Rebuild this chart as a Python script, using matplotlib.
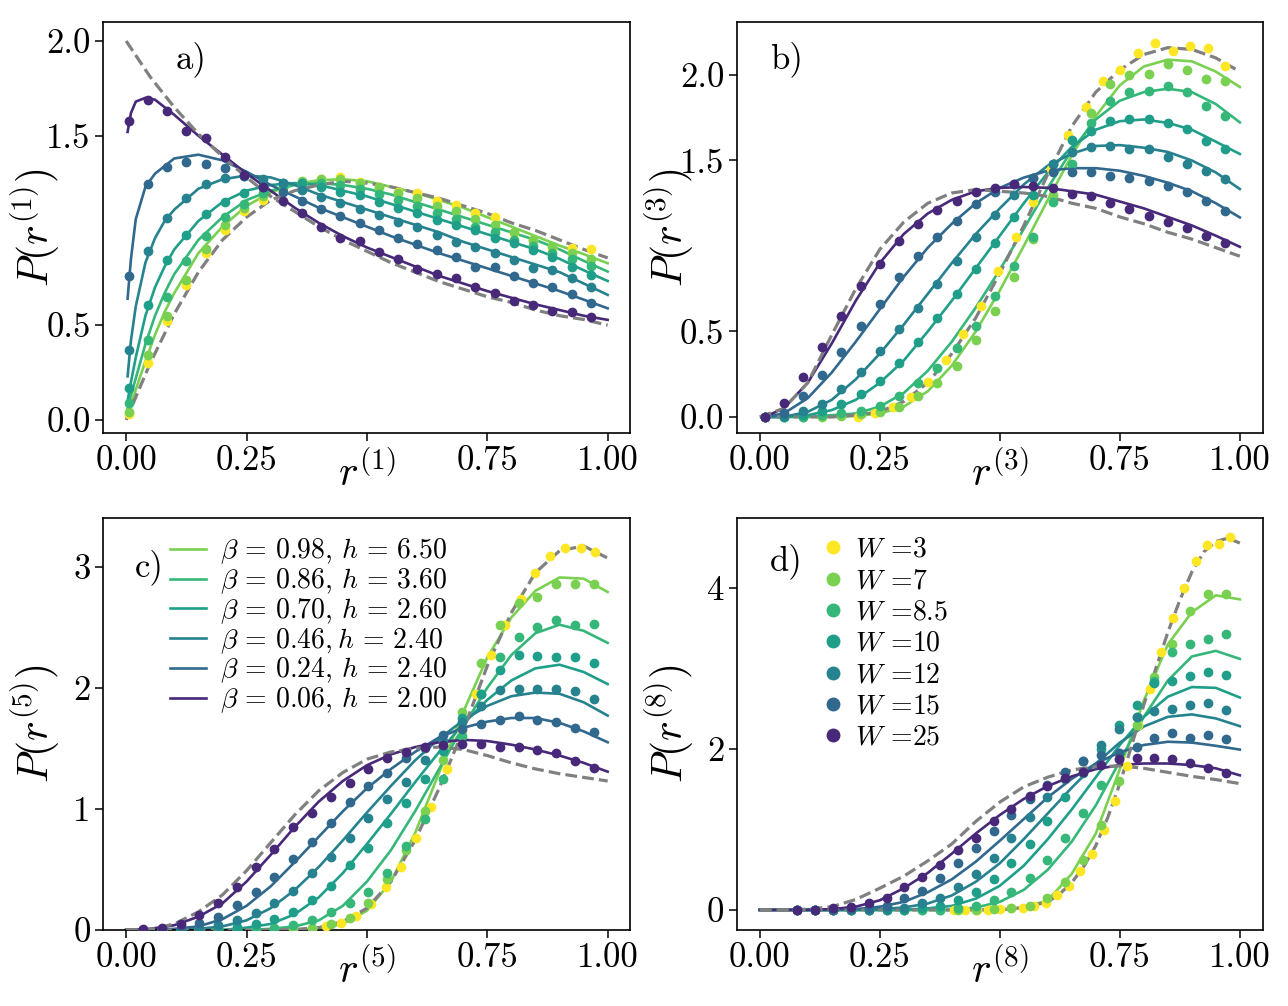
import numpy as np
import matplotlib
matplotlib.use("Agg")
import matplotlib.pyplot as plt

plt.rcParams["font.family"] = "serif"
plt.rcParams["font.serif"] = ["cmr10"]
plt.rcParams["mathtext.fontset"] = "cm"
plt.rcParams["axes.formatter.use_mathtext"] = True

# ---------------------------------------------------------------- legend / colours
W_labels = ["3", "7", "8.5", "10", "12", "15", "25"]
colors = ["#fde725", "#7ad151", "#35b779", "#1f9e89", "#26828e", "#31688e", "#482878"]
fit_labels = [r"$\beta\,=\,0.98$, $h\,=\,6.50$", r"$\beta\,=\,0.86$, $h\,=\,3.60$",
              r"$\beta\,=\,0.70$, $h\,=\,2.60$", r"$\beta\,=\,0.46,h\,=\,2.40$",
              r"$\beta\,=\,0.24$, $h\,=\,2.40$", r"$\beta\,=\,0.06$, $h\,=\,2.00$"]

r_ref = [0.0, 0.05, 0.1, 0.15, 0.2, 0.25, 0.3, 0.35, 0.4, 0.45, 0.5,
         0.55, 0.6, 0.65, 0.7, 0.75, 0.8, 0.85, 0.9, 0.95, 1.0]

# ---------------------------------------------------------------- panel a), k=1
a_r_dots = [0.005, 0.045, 0.085, 0.125, 0.165, 0.205, 0.245, 0.285, 0.325, 0.365, 0.405, 0.445, 0.485,
            0.525, 0.565, 0.605, 0.645, 0.685, 0.725, 0.765, 0.805, 0.845, 0.885, 0.925, 0.965]
a_dots = [  # W = 3, 7, 8.5, 10, 12, 15, 25
    [0.03, 0.30, 0.52, 0.71, 0.88, 1.00, 1.10, 1.16, 1.21, 1.25, 1.27, 1.284, 1.258, 1.231, 1.205, 1.196,
     1.156, 1.135, 1.09, 1.07, 0.985, 0.95, 0.906, 0.909, 0.902],
    [0.04, 0.34, 0.55, 0.74, 0.90, 1.03, 1.12, 1.18, 1.23, 1.26, 1.27, 1.27, 1.25, 1.23, 1.20, 1.17,
     1.13, 1.10, 1.06, 1.03, 0.99, 0.95, 0.92, 0.88, 0.85],
    [0.09, 0.42, 0.65, 0.84, 0.97, 1.07, 1.14, 1.20, 1.23, 1.25, 1.25, 1.24, 1.22, 1.19, 1.16, 1.13,
     1.09, 1.06, 1.02, 0.99, 0.95, 0.92, 0.88, 0.85, 0.81],
    [0.167, 0.607, 0.844, 0.976, 1.085, 1.152, 1.20, 1.231, 1.249, 1.249, 1.231, 1.205, 1.187, 1.149,
     1.117, 1.09, 1.055, 1.029, 1.003, 0.959, 0.932, 0.897, 0.862, 0.809, 0.765],
    [0.37, 0.892, 1.064, 1.173, 1.244, 1.275, 1.288, 1.27, 1.249, 1.214, 1.179, 1.143, 1.112, 1.082,
     1.047, 1.02, 0.976, 0.941, 0.915, 0.88, 0.844, 0.80, 0.79, 0.748, 0.704],
    [0.76, 1.245, 1.337, 1.363, 1.351, 1.328, 1.288, 1.231, 1.205, 1.156, 1.112, 1.077, 1.038, 1.003,
     0.959, 0.929, 0.897, 0.858, 0.809, 0.806, 0.76, 0.721, 0.704, 0.665, 0.616],
    [1.58, 1.69, 1.63, 1.525, 1.486, 1.386, 1.293, 1.231, 1.156, 1.094, 1.017, 0.959, 0.945, 0.885,
     0.848, 0.799, 0.770, 0.748, 0.704, 0.672, 0.628, 0.607, 0.575, 0.568, 0.545],
]
a_r_fit = [0.003, 0.01, 0.02, 0.04, 0.06, 0.08, 0.1, 0.15, 0.2, 0.25, 0.3, 0.35, 0.4,
           0.45, 0.5, 0.55, 0.6, 0.65, 0.7, 0.75, 0.8, 0.85, 0.9, 0.95, 1.0]
a_fits = [  # beta = 0.98, 0.86, 0.70, 0.46, 0.24, 0.06
    [0.03, 0.08, 0.16, 0.31, 0.45, 0.57, 0.67, 0.88, 1.02, 1.13, 1.20, 1.245, 1.265, 1.27, 1.26, 1.23,
     1.20, 1.16, 1.12, 1.07, 1.02, 0.97, 0.92, 0.875, 0.827],
    [0.06, 0.13, 0.22, 0.40, 0.55, 0.67, 0.77, 0.95, 1.07, 1.16, 1.21, 1.24, 1.25, 1.24, 1.22, 1.19,
     1.15, 1.11, 1.07, 1.03, 0.99, 0.95, 0.90, 0.84, 0.783],
    [0.10, 0.20, 0.33, 0.55, 0.70, 0.81, 0.90, 1.05, 1.15, 1.21, 1.24, 1.25, 1.24, 1.21, 1.18, 1.14,
     1.10, 1.06, 1.02, 0.98, 0.94, 0.90, 0.85, 0.79, 0.733],
    [0.23, 0.42, 0.60, 0.83, 0.96, 1.05, 1.11, 1.22, 1.27, 1.29, 1.28, 1.24, 1.19, 1.15, 1.11, 1.07,
     1.03, 0.99, 0.94, 0.90, 0.86, 0.82, 0.78, 0.72, 0.66],
    [0.64, 0.85, 1.06, 1.23, 1.30, 1.34, 1.38, 1.40, 1.37, 1.31, 1.24, 1.18, 1.12, 1.07, 1.02, 0.97,
     0.925, 0.88, 0.84, 0.80, 0.76, 0.72, 0.68, 0.635, 0.589],
    [1.52, 1.62, 1.68, 1.70, 1.69, 1.65, 1.61, 1.50, 1.40, 1.30, 1.21, 1.12, 1.04, 0.97, 0.91, 0.86,
     0.81, 0.76, 0.72, 0.68, 0.645, 0.61, 0.58, 0.55, 0.528],
]
a_poisson = [2.0, 1.81, 1.65, 1.51, 1.39, 1.28, 1.18, 1.10, 1.02, 0.95, 0.89,
             0.83, 0.78, 0.73, 0.69, 0.65, 0.62, 0.58, 0.55, 0.53, 0.50]
a_goe = [0.0, 0.30, 0.56, 0.78, 0.95, 1.07, 1.16, 1.21, 1.24, 1.26, 1.25,
         1.23, 1.20, 1.17, 1.13, 1.09, 1.04, 1.00, 0.95, 0.90, 0.855]

# ---------------------------------------------------------------- panel b), k=3
b_r_dots = [0.01, 0.05, 0.09, 0.13, 0.17, 0.21, 0.25, 0.29, 0.33, 0.37, 0.41, 0.45, 0.49,
            0.53, 0.57, 0.61, 0.65, 0.69, 0.73, 0.77, 0.81, 0.85, 0.89, 0.93, 0.97]
b_r_W3 = [0.205, 0.241, 0.278, 0.314, 0.351, 0.387, 0.424, 0.46, 0.497, 0.533, 0.569,
          0.606, 0.642, 0.679, 0.715, 0.751, 0.788, 0.824, 0.861, 0.897, 0.934, 0.97]
b_dots = [
    [0.0, 0.02, 0.06, 0.117, 0.207, 0.332, 0.484, 0.65, 0.855, 1.054, 1.255, 1.45, 1.65, 1.815,
     1.967, 2.03, 2.13, 2.185, 2.14, 2.17, 2.16, 2.055],
    [0.0, 0.0, 0.0, 0.0, 0.005, 0.015, 0.03, 0.06, 0.12, 0.2, 0.3, 0.45, 0.62, 0.82, 1.04, 1.3,
     1.55, 1.78, 1.95, 2.0, 2.006, 2.064, 2.03, 1.977, 1.967],
    [0.0, 0.0, 0.0, 0.01, 0.02, 0.035, 0.064, 0.123, 0.2, 0.289, 0.406, 0.533, 0.708, 0.884, 1.05,
     1.255, 1.48, 1.72, 1.85, 1.899, 1.908, 1.938, 1.90, 1.82, 1.762],
    [0.0, 0.0, 0.01, 0.035, 0.074, 0.133, 0.21, 0.318, 0.441, 0.576, 0.718, 0.864, 1.02, 1.167,
     1.30, 1.479, 1.62, 1.67, 1.733, 1.742, 1.74, 1.72, 1.684, 1.615, 1.567],
    [0.0, 0.005, 0.035, 0.074, 0.162, 0.26, 0.386, 0.513, 0.64, 0.777, 0.913, 1.05, 1.18, 1.30,
     1.40, 1.48, 1.55, 1.58, 1.586, 1.567, 1.567, 1.518, 1.479, 1.436, 1.391],
    [0.0, 0.025, 0.123, 0.244, 0.38, 0.533, 0.66, 0.816, 0.942, 1.05, 1.147, 1.245, 1.313, 1.36,
     1.40, 1.43, 1.43, 1.43, 1.41, 1.40, 1.38, 1.352, 1.313, 1.264, 1.206],
    [0.0, 0.084, 0.234, 0.41, 0.59, 0.767, 0.894, 1.03, 1.128, 1.212, 1.264, 1.313, 1.342, 1.362,
     1.35, 1.342, 1.303, 1.294, 1.249, 1.216, 1.177, 1.138, 1.108, 1.06, 1.02],
]
b_r_fit = [0.01, 0.05, 0.1, 0.15, 0.2, 0.25, 0.3, 0.35, 0.4, 0.45, 0.5,
           0.55, 0.6, 0.65, 0.7, 0.75, 0.8, 0.85, 0.9, 0.95, 1.0]
b_fits = [
    [0.0, 0.0, 0.0, 0.0, 0.005, 0.02, 0.06, 0.15, 0.3, 0.5, 0.74, 1.0, 1.27, 1.53, 1.76, 1.94,
     2.05, 2.09, 2.08, 2.02, 1.93],
    [0.0, 0.0, 0.0, 0.01, 0.02, 0.06, 0.14, 0.27, 0.44, 0.64, 0.86, 1.1, 1.34, 1.56, 1.74, 1.85,
     1.9, 1.92, 1.9, 1.83, 1.723],
    [0.0, 0.0, 0.01, 0.04, 0.1, 0.2, 0.33, 0.5, 0.68, 0.87, 1.06, 1.25, 1.43, 1.58, 1.68, 1.73,
     1.74, 1.72, 1.68, 1.61, 1.538],
    [0.0, 0.0, 0.03, 0.1, 0.22, 0.37, 0.54, 0.72, 0.9, 1.07, 1.22, 1.36, 1.47, 1.54, 1.585, 1.59,
     1.575, 1.55, 1.5, 1.43, 1.333],
    [0.0, 0.02, 0.11, 0.26, 0.44, 0.63, 0.82, 0.99, 1.13, 1.25, 1.34, 1.40, 1.44, 1.455, 1.455,
     1.44, 1.41, 1.37, 1.32, 1.25, 1.167],
    [0.0, 0.05, 0.2, 0.43, 0.68, 0.90, 1.07, 1.19, 1.27, 1.32, 1.34, 1.345, 1.34, 1.32, 1.30,
     1.26, 1.22, 1.17, 1.12, 1.06, 0.995],
]
b_poisson = [0.0, 0.05, 0.2, 0.48, 0.75, 0.98, 1.14, 1.25, 1.31, 1.33, 1.32,
             1.31, 1.29, 1.25, 1.22, 1.17, 1.13, 1.08, 1.04, 0.99, 0.94]
b_goe = [0.0, 0.0, 0.0, 0.0, 0.01, 0.03, 0.09, 0.2, 0.37, 0.58, 0.84,
         1.12, 1.42, 1.70, 1.90, 2.03, 2.12, 2.16, 2.15, 2.10, 2.02]

# ---------------------------------------------------------------- panel c), k=5
c_r_dots = [0.035, 0.074, 0.113, 0.152, 0.191, 0.23, 0.269, 0.308, 0.347, 0.386, 0.425, 0.464, 0.503,
            0.542, 0.581, 0.62, 0.659, 0.698, 0.737, 0.776, 0.815, 0.854, 0.893, 0.932, 0.971]
c_r_W3 = [0.385, 0.416, 0.447, 0.478, 0.508, 0.54, 0.57, 0.602, 0.634, 0.666,
          0.697, 0.727, 0.757, 0.787, 0.819, 0.849, 0.881, 0.912, 0.944, 0.974]
c_dots = [
    [0.014, 0.033, 0.06, 0.118, 0.215, 0.352, 0.523, 0.757, 1.013, 1.33, 1.64, 1.946, 2.27, 2.519,
     2.733, 2.945, 3.088, 3.157, 3.152, 3.124],
    [0.0, 0.0, 0.0, 0.0, 0.0, 0.0, 0.0, 0.005, 0.01, 0.02, 0.05, 0.1, 0.22, 0.42, 0.66, 0.98,
     1.4, 1.8, 2.2, 2.52, 2.7, 2.75, 2.86, 2.86, 2.86],
    [0.0, 0.0, 0.0, 0.0, 0.0, 0.005, 0.01, 0.02, 0.04, 0.08, 0.15, 0.22, 0.31, 0.468, 0.69, 0.92,
     1.25, 1.6, 1.95, 2.25, 2.42, 2.505, 2.56, 2.52, 2.53],
    [0.0, 0.0, 0.0, 0.005, 0.01, 0.025, 0.05, 0.09, 0.15, 0.25, 0.36, 0.54, 0.68, 0.88, 1.046,
     1.25, 1.48, 1.75, 1.95, 2.15, 2.27, 2.265, 2.257, 2.257, 2.2],
    [0.0, 0.0, 0.005, 0.015, 0.04, 0.083, 0.138, 0.22, 0.325, 0.468, 0.605, 0.757, 0.922, 1.082,
     1.225, 1.40, 1.56, 1.72, 1.85, 1.98, 1.99, 1.99, 1.99, 1.97, 1.91],
    [0.0, 0.005, 0.02, 0.055, 0.11, 0.206, 0.317, 0.44, 0.586, 0.73, 0.88, 1.06, 1.19, 1.293,
     1.42, 1.50, 1.61, 1.66, 1.70, 1.734, 1.767, 1.734, 1.72, 1.67, 1.632],
    [0.008, 0.019, 0.05, 0.124, 0.22, 0.352, 0.523, 0.666, 0.853, 0.969, 1.10, 1.217, 1.33, 1.418,
     1.473, 1.508, 1.53, 1.536, 1.536, 1.514, 1.514, 1.486, 1.459, 1.395, 1.335],
]
c_fits = [
    [0.0, 0.0, 0.0, 0.0, 0.0, 0.0, 0.0, 0.0, 0.01, 0.05, 0.16, 0.4, 0.8, 1.3, 1.8, 2.25,
     2.58, 2.8, 2.91, 2.9, 2.79],
    [0.0, 0.0, 0.0, 0.0, 0.0, 0.0, 0.01, 0.03, 0.08, 0.2, 0.4, 0.66, 0.98, 1.33, 1.68, 2.0,
     2.27, 2.45, 2.52, 2.47, 2.37],
    [0.0, 0.0, 0.0, 0.0, 0.0, 0.02, 0.05, 0.13, 0.27, 0.47, 0.71, 0.96, 1.22, 1.47, 1.7, 1.9,
     2.06, 2.16, 2.19, 2.13, 2.03],
    [0.0, 0.0, 0.0, 0.01, 0.03, 0.08, 0.18, 0.33, 0.52, 0.74, 0.97, 1.19, 1.4, 1.58, 1.73, 1.85,
     1.93, 1.96, 1.95, 1.88, 1.77],
    [0.0, 0.0, 0.01, 0.03, 0.09, 0.2, 0.36, 0.56, 0.77, 0.98, 1.17, 1.33, 1.47, 1.59, 1.67, 1.72,
     1.75, 1.75, 1.71, 1.64, 1.55],
    [0.0, 0.01, 0.04, 0.11, 0.22, 0.4, 0.62, 0.85, 1.06, 1.23, 1.36, 1.45, 1.51, 1.55, 1.57, 1.56,
     1.53, 1.49, 1.44, 1.38, 1.307],
]
c_poisson = [0.0, 0.005, 0.05, 0.15, 0.29, 0.49, 0.72, 0.95, 1.15, 1.3, 1.41,
             1.47, 1.5, 1.51, 1.49, 1.44, 1.38, 1.33, 1.29, 1.26, 1.23]
c_goe = [0.0, 0.0, 0.0, 0.0, 0.0, 0.0, 0.0, 0.005, 0.02, 0.07, 0.18,
         0.4, 0.74, 1.17, 1.65, 2.18, 2.62, 2.95, 3.13, 3.17, 3.07]

# ---------------------------------------------------------------- panel d), k=8
d_r_dots = [0.078, 0.115, 0.152, 0.19, 0.227, 0.264, 0.301, 0.338, 0.376, 0.413, 0.45, 0.487, 0.524,
            0.562, 0.599, 0.636, 0.673, 0.71, 0.748, 0.785, 0.822, 0.859, 0.896, 0.934, 0.971]
d_r_W3 = [0.404, 0.428, 0.452, 0.476, 0.5, 0.524, 0.548, 0.572, 0.596, 0.62, 0.644, 0.668, 0.692,
          0.716, 0.74, 0.764, 0.788, 0.812, 0.836, 0.86, 0.884, 0.908, 0.932, 0.956, 0.98]
d_dots = [
    [0.0, 0.0, 0.0, 0.0, 0.008, 0.03, 0.03, 0.05, 0.09, 0.18, 0.30, 0.486, 0.69, 0.99, 1.36,
     1.786, 2.3, 2.75, 3.2, 3.63, 4.0, 4.34, 4.53, 4.55, 4.63],
    [0.0, 0.0, 0.0, 0.0, 0.0, 0.0, 0.0, 0.0, 0.0, 0.0, 0.0, 0.01, 0.02, 0.05, 0.15, 0.35, 0.62,
     1.05, 1.6, 2.3, 2.9, 3.3, 3.72, 3.93, 3.93],
    [0.0, 0.0, 0.0, 0.0, 0.0, 0.0, 0.0, 0.0, 0.0, 0.02, 0.05, 0.12, 0.22, 0.4, 0.62, 0.9, 1.2,
     1.55, 1.95, 2.4, 2.85, 3.2, 3.3, 3.37, 3.43],
    [0.0, 0.0, 0.0, 0.0, 0.0, 0.0, 0.005, 0.02, 0.05, 0.12, 0.22, 0.38, 0.58, 0.82, 1.1, 1.4, 1.7,
     2.0, 2.3, 2.55, 2.82, 2.85, 2.91, 2.96, 2.92],
    [0.0, 0.0, 0.0, 0.0, 0.0, 0.01, 0.03, 0.08, 0.15, 0.28, 0.45, 0.65, 0.9, 1.15, 1.4, 1.63,
     1.85, 2.05, 2.25, 2.4, 2.47, 2.5, 2.55, 2.57, 2.49],
    [0.0, 0.0, 0.0, 0.01, 0.02, 0.05, 0.145, 0.24, 0.4, 0.58, 0.77, 0.976, 1.18, 1.38, 1.55, 1.72,
     1.85, 1.93, 1.95, 2.03, 2.14, 2.2, 2.14, 2.18, 2.12],
    [0.0, 0.0, 0.02, 0.04, 0.083, 0.154, 0.29, 0.415, 0.56, 0.748, 0.893, 1.10, 1.254, 1.412,
     1.545, 1.64, 1.72, 1.80, 1.87, 1.89, 1.89, 1.87, 1.83, 1.77, 1.70],
]
d_fits = [
    [0.0, 0.0, 0.0, 0.0, 0.0, 0.0, 0.0, 0.0, 0.0, 0.0, 0.0, 0.03, 0.12, 0.45, 0.95, 1.75,
     2.6, 3.3, 3.7, 3.91, 3.86],
    [0.0, 0.0, 0.0, 0.0, 0.0, 0.0, 0.0, 0.0, 0.0, 0.03, 0.1, 0.25, 0.5, 0.85, 1.3, 1.85,
     2.4, 2.85, 3.15, 3.22, 3.12],
    [0.0, 0.0, 0.0, 0.0, 0.0, 0.0, 0.0, 0.02, 0.05, 0.14, 0.3, 0.55, 0.88, 1.25, 1.65, 2.05,
     2.4, 2.65, 2.77, 2.76, 2.64],
    [0.0, 0.0, 0.0, 0.0, 0.0, 0.01, 0.03, 0.08, 0.18, 0.35, 0.58, 0.88, 1.2, 1.52, 1.82, 2.08,
     2.28, 2.4, 2.43, 2.38, 2.284],
    [0.0, 0.0, 0.0, 0.0, 0.01, 0.04, 0.1, 0.22, 0.38, 0.6, 0.86, 1.13, 1.4, 1.63, 1.82, 1.96,
     2.05, 2.09, 2.08, 2.04, 1.993],
    [0.0, 0.0, 0.0, 0.01, 0.04, 0.12, 0.27, 0.46, 0.7, 0.95, 1.18, 1.38, 1.54, 1.66, 1.75, 1.8,
     1.82, 1.82, 1.8, 1.76, 1.673],
]
d_poisson = [0.0, 0.0, 0.01, 0.04, 0.13, 0.27, 0.42, 0.61, 0.82, 1.1, 1.34,
             1.53, 1.65, 1.74, 1.78, 1.79, 1.76, 1.71, 1.66, 1.62, 1.57]
d_r_goe = [0.0, 0.1, 0.2, 0.3, 0.4, 0.5, 0.55, 0.6, 0.625, 0.65, 0.675, 0.7,
           0.725, 0.75, 0.775, 0.8, 0.825, 0.85, 0.875, 0.9, 0.925, 0.95, 0.975, 1.0]
d_goe = [0.0, 0.0, 0.0, 0.0, 0.0, 0.0, 0.03, 0.1, 0.2, 0.34, 0.54, 0.8,
         1.15, 1.57, 2.05, 2.55, 3.0, 3.45, 3.85, 4.2, 4.45, 4.58, 4.62, 4.56]


def draw_panel(ax, xs_dots, dots, r_fit, fits, r_pois, pois, r_goe, goe):
    fit_handles = []
    for i, y in enumerate(fits):
        h, = ax.plot(r_fit, y, '-', color=colors[i + 1], lw=1.9, zorder=2)
        fit_handles.append(h)
    ax.plot(r_pois, pois, '--', color='gray', lw=2.3, zorder=3)
    ax.plot(r_goe, goe, '--', color='gray', lw=2.3, zorder=3)
    dot_handles = []
    for i, y in enumerate(dots):
        h, = ax.plot(xs_dots[i], y, 'o', color=colors[i], ms=6, ls='none', zorder=4)
        dot_handles.append(h)
    return fit_handles, dot_handles


fig = plt.figure(figsize=(12.88, 10.06), dpi=100)
ax_a = fig.add_axes([0.080, 0.5696, 0.409, 0.4085])
ax_b = fig.add_axes([0.572, 0.5696, 0.4085, 0.4085])
ax_c = fig.add_axes([0.080, 0.0755, 0.409, 0.4095])
ax_d = fig.add_axes([0.572, 0.0755, 0.4085, 0.4095])

draw_panel(ax_a, [a_r_dots] * 7, a_dots, a_r_fit, a_fits, r_ref, a_poisson, r_ref, a_goe)
draw_panel(ax_b, [b_r_W3] + [b_r_dots] * 6, b_dots, b_r_fit, b_fits, r_ref, b_poisson, r_ref, b_goe)
fit_h, _ = draw_panel(ax_c, [c_r_W3] + [c_r_dots] * 6, c_dots, r_ref, c_fits, r_ref, c_poisson, r_ref, c_goe)
_, dot_h = draw_panel(ax_d, [d_r_W3] + [d_r_dots] * 6, d_dots, r_ref, d_fits, r_ref, d_poisson, d_r_goe, d_goe)

xt = [0.0, 0.25, 0.5, 0.75, 1.0]
xtl = ["0.00", "0.25", "", "0.75", "1.00"]
setup = [
    (ax_a, "1", (-0.048, 1.046), (-0.069, 2.10), [0, 0.5, 1.5, 2.0], ["0.0", "0.5", "1.5", "2.0"], "a)",
     (0.137, 0.952)),
    (ax_b, "3", (-0.048, 1.048), (-0.094, 2.31), [0, 0.5, 1.5, 2.0], ["0.0", "0.5", "1.5", "2.0"], "b)",
     (0.063, 0.952)),
    (ax_c, "5", (-0.048, 1.046), (0.0, 3.40), [0, 1, 2, 3], ["0", "1", "2", "3"], "c)",
     (0.061, 0.925)),
    (ax_d, "8", (-0.048, 1.048), (-0.25, 4.87), [0, 2, 4], ["0", "2", "4"], "d)",
     (0.063, 0.938)),
]
for ax, k, xl, yl, yt, ytl, tag, tpos in setup:
    ax.set_xlim(*xl)
    ax.set_ylim(*yl)
    ax.set_xticks(xt)
    ax.set_xticklabels(xtl)
    ax.set_yticks(yt)
    ax.set_yticklabels(ytl)
    ax.tick_params(labelsize=25, length=5.5, width=1.1)
    for s in ax.spines.values():
        s.set_linewidth(1.2)
    ax.set_xlabel(r"$r^{(%s)}$" % k, fontsize=30)
    ax.set_ylabel(r"$P(r^{(%s)})$" % k, fontsize=30)
    ax.xaxis.set_label_coords(0.5, -0.045)
    ax.yaxis.set_label_coords(-0.078, 0.5)
    ax.text(tpos[0], tpos[1], tag, transform=ax.transAxes, fontsize=25, va='top', ha='left')

ax_c.legend(fit_h, fit_labels, loc='upper left', bbox_to_anchor=(0.127, 0.955), frameon=False,
            fontsize=20, handlelength=1.3, handletextpad=0.5, labelspacing=0.0,
            borderpad=0, borderaxespad=0)
ax_d.legend(dot_h, ["$W$ =" + w for w in W_labels], loc='upper left', bbox_to_anchor=(0.162, 0.955),
            frameon=False, fontsize=20, handlelength=0.8, handletextpad=0.4, labelspacing=0.18,
            markerscale=1.5, numpoints=1, borderpad=0, borderaxespad=0)

fig.savefig("out.png", dpi=100)
